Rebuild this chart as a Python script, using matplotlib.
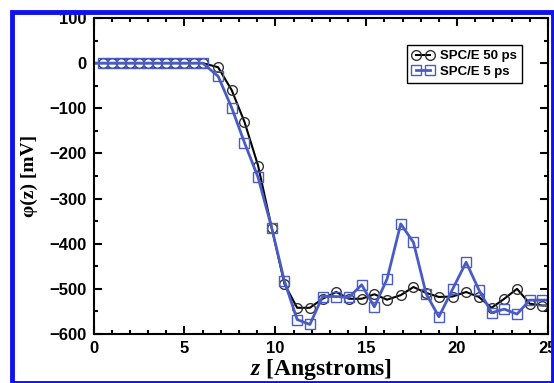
import matplotlib.pyplot as plt
from matplotlib.patches import Rectangle
from matplotlib.ticker import MultipleLocator

plt.rcParams['mathtext.fontset'] = 'custom'
plt.rcParams['mathtext.it'] = 'Liberation Serif:italic:bold'

# z positions (Angstroms)
z = [0.0, 0.5, 1.0, 1.5, 2.0, 2.5, 3.0, 3.5, 4.0, 4.5, 5.0, 5.5, 6.0,
     6.85, 7.6, 8.3, 9.05, 9.8, 10.5, 11.2, 11.9, 12.6, 13.35, 14.05, 14.75,
     15.45, 16.15, 16.9, 17.6, 18.3, 19.0, 19.75, 20.5, 21.2, 21.9, 22.6,
     23.3, 24.0, 24.7, 25.4]

# potential in mV
spce_50ps = [0, 0, 0, 0, 0, 0, 0, 0, 0, 0, 0, 0, 0,
             -9, -60, -130, -227, -365, -489, -542, -542, -522, -507, -522, -522,
             -512, -524, -514, -496, -509, -518, -517, -507, -518, -542, -522,
             -500, -533, -537, -537]
spce_5ps = [0, 0, 0, 0, 0, 0, 0, 0, 0, 0, 0, 0, 0,
            -29, -99, -176, -253, -365, -483, -568, -579, -517, -517, -519, -491,
            -540, -478, -356, -397, -511, -562, -501, -441, -502, -553, -545,
            -556, -525, -525, -525]

fig = plt.figure(figsize=(5.54, 3.83), dpi=100)
ax = fig.add_axes([0.169, 0.128, 0.82, 0.825])

blue = '#4a5cc4'
ax.plot(z, spce_50ps, color='black', lw=1.5, marker='o', ms=7, mfc='none',
        mec='#333333', mew=1.0, markevery=slice(1, None), label='SPC/E 50 ps')
ax.plot(z, spce_5ps, color=blue, lw=2.0, marker='s', ms=6.5, mfc='none',
        mec=blue, mew=1.0, markevery=slice(1, None), label='SPC/E 5 ps')

ax.set_xlim(0, 25)
ax.set_ylim(-600, 100)
ax.xaxis.set_major_locator(MultipleLocator(5))
ax.xaxis.set_minor_locator(MultipleLocator(1))
ax.yaxis.set_major_locator(MultipleLocator(100))
ax.yaxis.set_minor_locator(MultipleLocator(50))
ax.tick_params(which='both', direction='in', top=True, right=True, width=1.5)
ax.tick_params(which='major', length=6, pad=5)
ax.tick_params(which='minor', length=3)
for lab in ax.get_xticklabels() + ax.get_yticklabels():
    lab.set_fontfamily('Liberation Sans')
    lab.set_fontweight('bold')
    lab.set_fontsize(12)
for s in ax.spines.values():
    s.set_linewidth(1.5)

ax.set_xlabel(r'$z$ [Angstroms]', family='Liberation Serif',
              fontweight='bold', fontsize=17, labelpad=1)
ax.set_ylabel('φ(z) [mV]', family='Liberation Serif', fontweight='bold',
              fontsize=14, labelpad=8)

leg = ax.legend(loc='upper right', bbox_to_anchor=(0.957, 0.936), numpoints=2,
                handlelength=1.7, handletextpad=0.4, borderpad=0.4,
                labelspacing=0.25, fancybox=False, framealpha=1,
                prop={'family': 'Liberation Sans', 'weight': 'bold', 'size': 9.5})
leg.get_frame().set_edgecolor('black')
leg.get_frame().set_linewidth(1.0)

# blue frame around the picture
fig.patches.append(Rectangle((12 / 554, 0.0), 541 / 554, 371 / 383,
                             transform=fig.transFigure, fill=False,
                             edgecolor='#1010f0', lw=3.5, clip_on=False))

fig.savefig('out.png', dpi=100)
